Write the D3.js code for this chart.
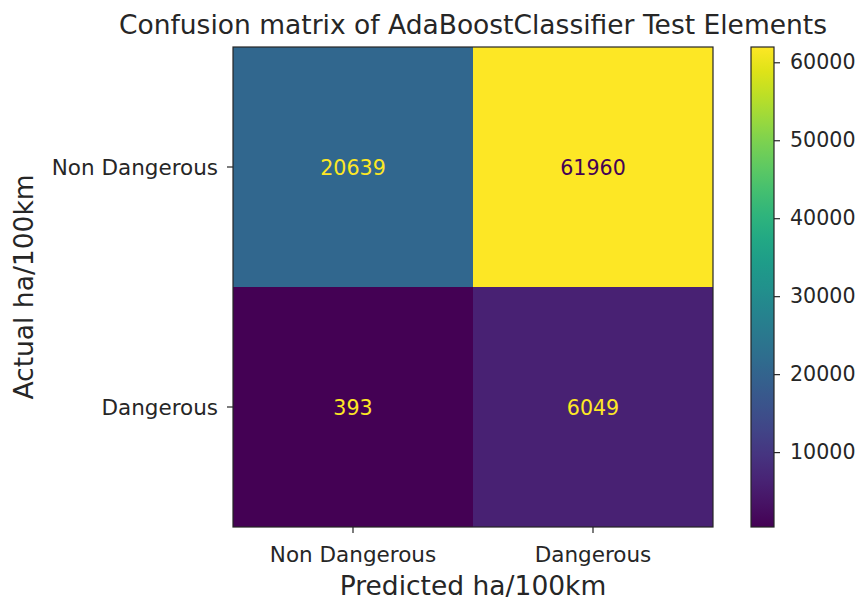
<!DOCTYPE html>
<html>
<head>
<meta charset="utf-8">
<script src="https://cdn.jsdelivr.net/npm/d3@7"></script>
<style>
  html, body { margin: 0; padding: 0; background: #ffffff; }
  svg { display: block; font-family: "DejaVu Sans", sans-serif; }
</style>
</head>
<body>
<svg id="chart" width="858" height="602"></svg>
<script>
// Confusion matrix data (rows = actual, columns = predicted)
const actualLabels = ["Non Dangerous", "Dangerous"];
const predictedLabels = ["Non Dangerous", "Dangerous"];
const row0 = [20639, 61960];
const row1 = [393, 6049];
const colorbarTicks = [10000, 20000, 30000, 40000, 50000, 60000];
const titleText = "Confusion matrix of AdaBoostClassifier Test Elements";
const xLabelText = "Predicted ha/100km";
const yLabelText = "Actual ha/100km";

const matrix = [row0, row1];
const cells = [];
matrix.forEach((row, i) => row.forEach((v, j) => cells.push({ i, j, v })));

const svg = d3.select("#chart");
const plot = { left: 233, top: 47, size: 480 };
const textDark = "#262626";
const tickFont = 21.5;
const labelFont = 26.5;

const allVals = cells.map(d => d.v);
const vmin = d3.min(allVals), vmax = d3.max(allVals);
const color = d3.scaleSequential(d3.interpolateViridis).domain([vmin, vmax]);
const midVal = (vmin + vmax) / 2;

const x = d3.scaleBand().domain(predictedLabels).range([plot.left, plot.left + plot.size]);
const y = d3.scaleBand().domain(actualLabels).range([plot.top, plot.top + plot.size]);

// heatmap cells
svg.append("g").selectAll("rect").data(cells).join("rect")
  .attr("x", d => x(predictedLabels[d.j]))
  .attr("y", d => y(actualLabels[d.i]))
  .attr("width", x.bandwidth())
  .attr("height", y.bandwidth())
  .attr("fill", d => color(d.v));

// value annotations
svg.append("g").selectAll("text").data(cells).join("text")
  .attr("x", d => x(predictedLabels[d.j]) + x.bandwidth() / 2)
  .attr("y", d => y(actualLabels[d.i]) + y.bandwidth() / 2 + 1)
  .attr("text-anchor", "middle")
  .attr("dominant-baseline", "central")
  .attr("font-size", 20.6)
  .attr("fill", d => d.v < midVal ? color(vmax) : color(vmin))
  .text(d => d.v);

// axes
const xAxis = svg.append("g")
  .attr("transform", `translate(0,${plot.top + plot.size})`)
  .call(d3.axisBottom(x).tickSize(6).tickPadding(10));
const yAxis = svg.append("g")
  .attr("transform", `translate(${plot.left},0)`)
  .call(d3.axisLeft(y).tickSize(6).tickPadding(9));
[xAxis, yAxis].forEach(g => {
  g.select(".domain").remove();
  g.selectAll(".tick line").attr("stroke", textDark).attr("stroke-width", 1.2);
  g.selectAll(".tick text").attr("font-size", tickFont).attr("fill", textDark)
    .attr("font-family", "DejaVu Sans, sans-serif");
});
xAxis.selectAll(".tick text").attr("dy", 19);
yAxis.selectAll(".tick text").attr("dy", "0.35em");

// plot frame
svg.append("rect")
  .attr("x", plot.left).attr("y", plot.top)
  .attr("width", plot.size).attr("height", plot.size)
  .attr("fill", "none").attr("stroke", textDark).attr("stroke-width", 1.2);

// colorbar
const cb = { left: 751, width: 23, top: 47, height: 480 };
const cbScale = d3.scaleLinear().domain([vmin, vmax]).range([cb.top + cb.height, cb.top]);
const defs = svg.append("defs");
const grad = defs.append("linearGradient").attr("id", "cbgrad")
  .attr("x1", 0).attr("y1", 1).attr("x2", 0).attr("y2", 0);
d3.range(0, 1.0001, 0.05).forEach(t => {
  grad.append("stop").attr("offset", t).attr("stop-color", d3.interpolateViridis(t));
});
svg.append("rect")
  .attr("x", cb.left).attr("y", cb.top)
  .attr("width", cb.width).attr("height", cb.height)
  .attr("fill", "url(#cbgrad)")
  .attr("stroke", textDark).attr("stroke-width", 1.2);
const cbAxis = svg.append("g")
  .attr("transform", `translate(${cb.left + cb.width},0)`)
  .call(d3.axisRight(cbScale).tickValues(colorbarTicks).tickFormat(d3.format("d")).tickSize(6).tickPadding(10));
cbAxis.select(".domain").remove();
cbAxis.selectAll(".tick line").attr("stroke", textDark).attr("stroke-width", 1.2);
cbAxis.selectAll(".tick text").attr("font-size", 20.6).attr("fill", textDark)
  .attr("font-family", "DejaVu Sans, sans-serif");

// title and axis labels
svg.append("text")
  .attr("x", plot.left + plot.size / 2).attr("y", 34)
  .attr("text-anchor", "middle").attr("font-size", labelFont).attr("fill", textDark)
  .text(titleText);
svg.append("text")
  .attr("x", plot.left + plot.size / 2).attr("y", 595)
  .attr("text-anchor", "middle").attr("font-size", labelFont).attr("fill", textDark)
  .text(xLabelText);
svg.append("text")
  .attr("transform", `translate(33,${plot.top + plot.size / 2}) rotate(-90)`)
  .attr("text-anchor", "middle").attr("font-size", labelFont).attr("fill", textDark)
  .text(yLabelText);
</script>
</body>
</html>
